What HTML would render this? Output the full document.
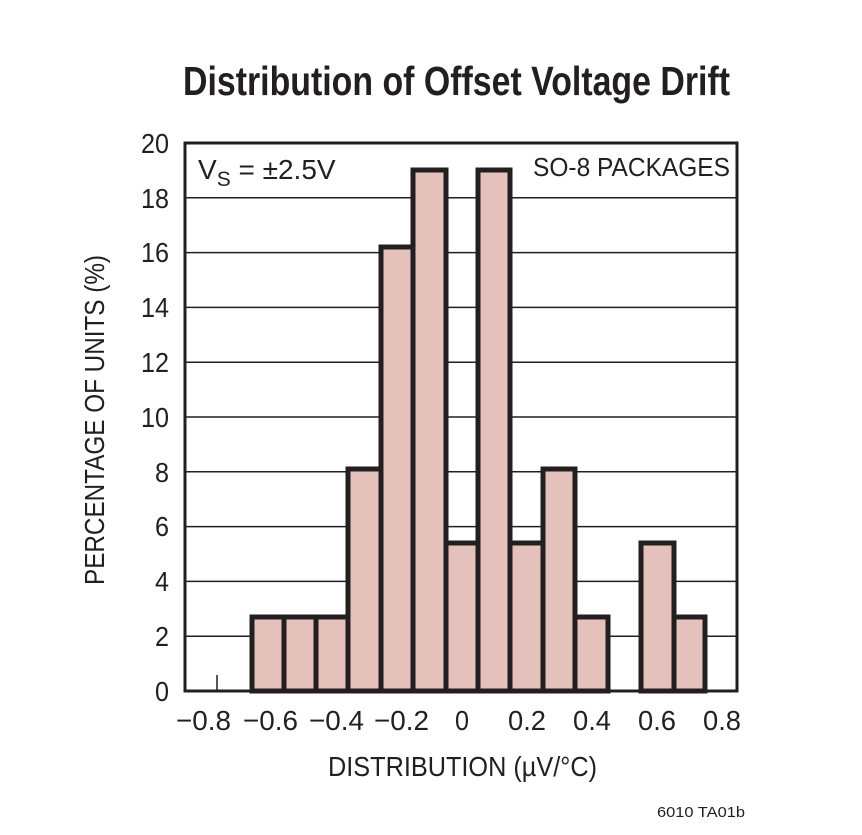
<!DOCTYPE html>
<html><head><meta charset="utf-8"><style>body{margin:0;background:#fff}svg{display:block}</style></head>
<body>
<svg width="862" height="835" viewBox="0 0 862 835" xmlns="http://www.w3.org/2000/svg" font-family="Liberation Sans, Arial, sans-serif" fill="#231f20">
<rect width="862" height="835" fill="#fff"/>
<text x="183" y="95" font-size="41" font-weight="bold" textLength="547" lengthAdjust="spacingAndGlyphs">Distribution of Offset Voltage Drift</text>
<g stroke="#231f20" stroke-width="1.5">
<line x1="185" x2="737" y1="636.2" y2="636.2"/><line x1="185" x2="737" y1="581.4" y2="581.4"/>
<line x1="185" x2="737" y1="526.6" y2="526.6"/><line x1="185" x2="737" y1="471.8" y2="471.8"/>
<line x1="185" x2="737" y1="417" y2="417"/><line x1="185" x2="737" y1="362.2" y2="362.2"/>
<line x1="185" x2="737" y1="307.4" y2="307.4"/><line x1="185" x2="737" y1="252.6" y2="252.6"/>
<line x1="185" x2="737" y1="197.8" y2="197.8"/>
<line x1="217" x2="217" y1="675" y2="691"/>
</g>
<g fill="#e5c1bb" stroke="#231f20" stroke-width="5">
<rect x="252" y="617" width="32" height="74"/>
<rect x="284" y="617" width="32" height="74"/>
<rect x="316" y="617" width="32" height="74"/>
<rect x="348" y="469" width="33" height="222"/>
<rect x="381" y="247" width="32" height="444"/>
<rect x="413" y="170" width="33" height="521"/>
<rect x="446" y="543" width="32" height="148"/>
<rect x="478" y="170" width="32" height="521"/>
<rect x="510" y="543" width="33" height="148"/>
<rect x="543" y="469" width="32" height="222"/>
<rect x="575" y="617" width="33" height="74"/>
<rect x="641" y="543" width="33" height="148"/>
<rect x="674" y="617" width="31" height="74"/>
</g>
<rect x="185" y="143" width="552" height="548" fill="none" stroke="#231f20" stroke-width="3"/>
<g font-size="28">
<text x="155" y="701" textLength="14" lengthAdjust="spacingAndGlyphs">0</text>
<text x="155" y="646" textLength="14" lengthAdjust="spacingAndGlyphs">2</text>
<text x="155" y="591" textLength="14" lengthAdjust="spacingAndGlyphs">4</text>
<text x="155" y="536" textLength="14" lengthAdjust="spacingAndGlyphs">6</text>
<text x="155" y="482" textLength="14" lengthAdjust="spacingAndGlyphs">8</text>
<text x="141" y="427" textLength="28" lengthAdjust="spacingAndGlyphs">10</text>
<text x="141" y="372" textLength="28" lengthAdjust="spacingAndGlyphs">12</text>
<text x="141" y="317" textLength="28" lengthAdjust="spacingAndGlyphs">14</text>
<text x="141" y="262" textLength="28" lengthAdjust="spacingAndGlyphs">16</text>
<text x="141" y="208" textLength="28" lengthAdjust="spacingAndGlyphs">18</text>
<text x="141" y="153" textLength="28" lengthAdjust="spacingAndGlyphs">20</text>
</g>
<g font-size="28">
<text x="176" y="730" textLength="55" lengthAdjust="spacingAndGlyphs">−0.8</text>
<text x="243" y="730" textLength="55" lengthAdjust="spacingAndGlyphs">−0.6</text>
<text x="309" y="730" textLength="55" lengthAdjust="spacingAndGlyphs">−0.4</text>
<text x="374" y="730" textLength="55" lengthAdjust="spacingAndGlyphs">−0.2</text>
<text x="455" y="730" textLength="14" lengthAdjust="spacingAndGlyphs">0</text>
<text x="508" y="730" textLength="38" lengthAdjust="spacingAndGlyphs">0.2</text>
<text x="573" y="730" textLength="38" lengthAdjust="spacingAndGlyphs">0.4</text>
<text x="638" y="730" textLength="38" lengthAdjust="spacingAndGlyphs">0.6</text>
<text x="703" y="730" textLength="38" lengthAdjust="spacingAndGlyphs">0.8</text>
</g>
<text x="198" y="179" font-size="28">V<tspan font-size="21" dy="7">S</tspan><tspan dy="-7"> = ±2.5V</tspan></text>
<text x="533" y="176" font-size="26" textLength="197" lengthAdjust="spacingAndGlyphs">SO-8 PACKAGES</text>
<text x="328" y="776" font-size="28" textLength="269" lengthAdjust="spacingAndGlyphs">DISTRIBUTION (µV/°C)</text>
<text transform="translate(104,420) rotate(-90)" font-size="28" text-anchor="middle" textLength="330" lengthAdjust="spacingAndGlyphs">PERCENTAGE OF UNITS (%)</text>
<text x="657" y="817" font-size="15" textLength="88" lengthAdjust="spacingAndGlyphs">6010 TA01b</text>
</svg>
</body></html>
